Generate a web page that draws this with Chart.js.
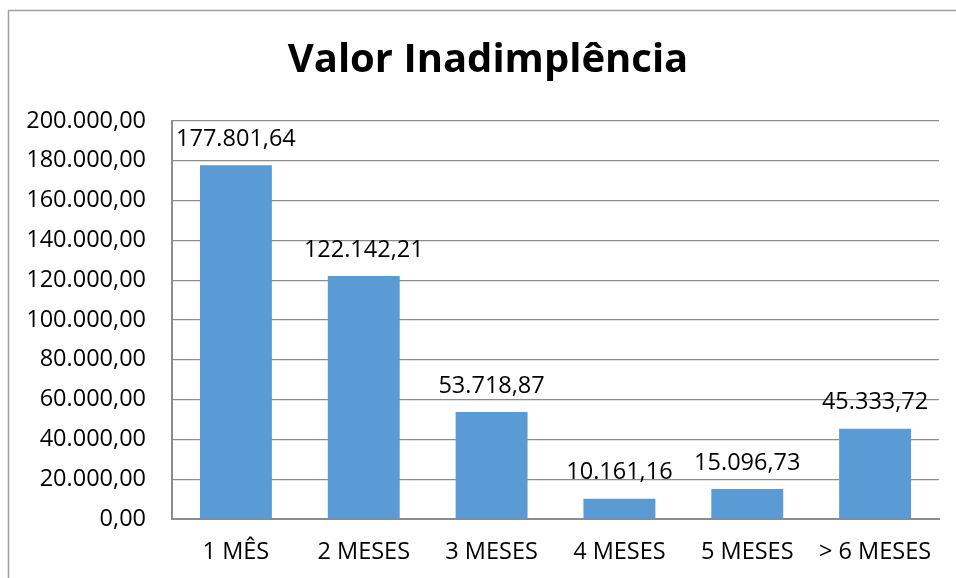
<!DOCTYPE html>
<html>
<head>
<meta charset="utf-8">
<script src="https://cdn.jsdelivr.net/npm/chart.js@4"></script>
<style>
    html, body { margin: 0; padding: 0; background: #fff; }
    #wrap { width: 956px; height: 578px; }
</style>
</head>
<body>
<div id="wrap"><canvas id="myChart" width="956" height="578"></canvas></div>
<script>
(function () {
    "use strict";

    var titleText = "Valor Inadimplência";
    var categories = ["1 MÊS", "2 MESES", "3 MESES", "4 MESES", "5 MESES", "> 6 MESES"];
    var values = [177801.64, 122142.21, 53718.87, 10161.16, 15096.73, 45333.72];
    var yMin = 0;
    var yMax = 200000;
    var yStep = 20000;

    var fontFamily = "'Open Sans', 'Liberation Sans', sans-serif";

    function fmt(v) {
        var parts = v.toFixed(2).split(".");
        var intPart = parts[0].replace(/\B(?=(\d{3})+(?!\d))/g, ".");
        return intPart + "," + parts[1];
    }

    var frame = {
        id: "frame",
        beforeDraw: function (chart) {
            var c = chart.ctx;
            c.save();
            c.fillStyle = "#fff";
            c.fillRect(0, 0, chart.width, chart.height);
            c.strokeStyle = "#a0a0a0";
            c.lineWidth = 1.5;
            c.strokeRect(8.5, 10.5, chart.width + 20, chart.height + 20);
            c.fillStyle = "#000";
            c.font = "bold 40px " + fontFamily;
            c.textAlign = "center";
            c.textBaseline = "middle";
            c.fillText(titleText, 488, 61);
            c.restore();
        }
    };

    var valueLabels = {
        id: "valueLabels",
        afterDatasetsDraw: function (chart) {
            var c = chart.ctx;
            var meta = chart.getDatasetMeta(0);
            c.save();
            c.font = "23.5px " + fontFamily;
            c.textAlign = "center";
            c.textBaseline = "middle";
            c.fillStyle = "#000";
            meta.data.forEach(function (bar, i) {
                c.fillText(fmt(values[i]), bar.x, bar.y - 26);
            });
            c.restore();
        }
    };

    var ctx = document.getElementById("myChart");
    var myChart = new Chart(ctx, {
        type: "bar",
        data: {
            labels: categories,
            datasets: [
                {
                    data: values,
                    backgroundColor: "#5b9bd5",
                    borderWidth: 0,
                    barPercentage: 0.5625,
                    categoryPercentage: 1.0
                }
            ]
        },
        options: {
            responsive: false,
            animation: false,
            layout: {
                padding: { top: 121, right: 17, bottom: 0, left: 0 }
            },
            scales: {
                y: {
                    min: yMin,
                    max: yMax,
                    afterFit: function (scale) { scale.width = 172; },
                    ticks: {
                        stepSize: yStep,
                        padding: 26,
                        color: "#000",
                        font: { family: fontFamily, size: 23.5 },
                        callback: function (v) { return fmt(v); }
                    },
                    grid: {
                        color: "#8c8c8c",
                        lineWidth: 1.3,
                        drawTicks: false
                    },
                    border: { color: "#8c8c8c", width: 2 }
                },
                x: {
                    afterFit: function (scale) { scale.height = 59; },
                    ticks: {
                        padding: 19,
                        color: "#000",
                        font: { family: fontFamily, size: 23.5 },
                        maxRotation: 0
                    },
                    grid: { display: false, drawTicks: false },
                    border: { color: "#8c8c8c", width: 2 }
                }
            },
            plugins: {
                legend: { display: false },
                tooltip: { enabled: false },
                title: { display: false }
            }
        },
        plugins: [frame, valueLabels]
    });
})();
</script>
</body>
</html>
